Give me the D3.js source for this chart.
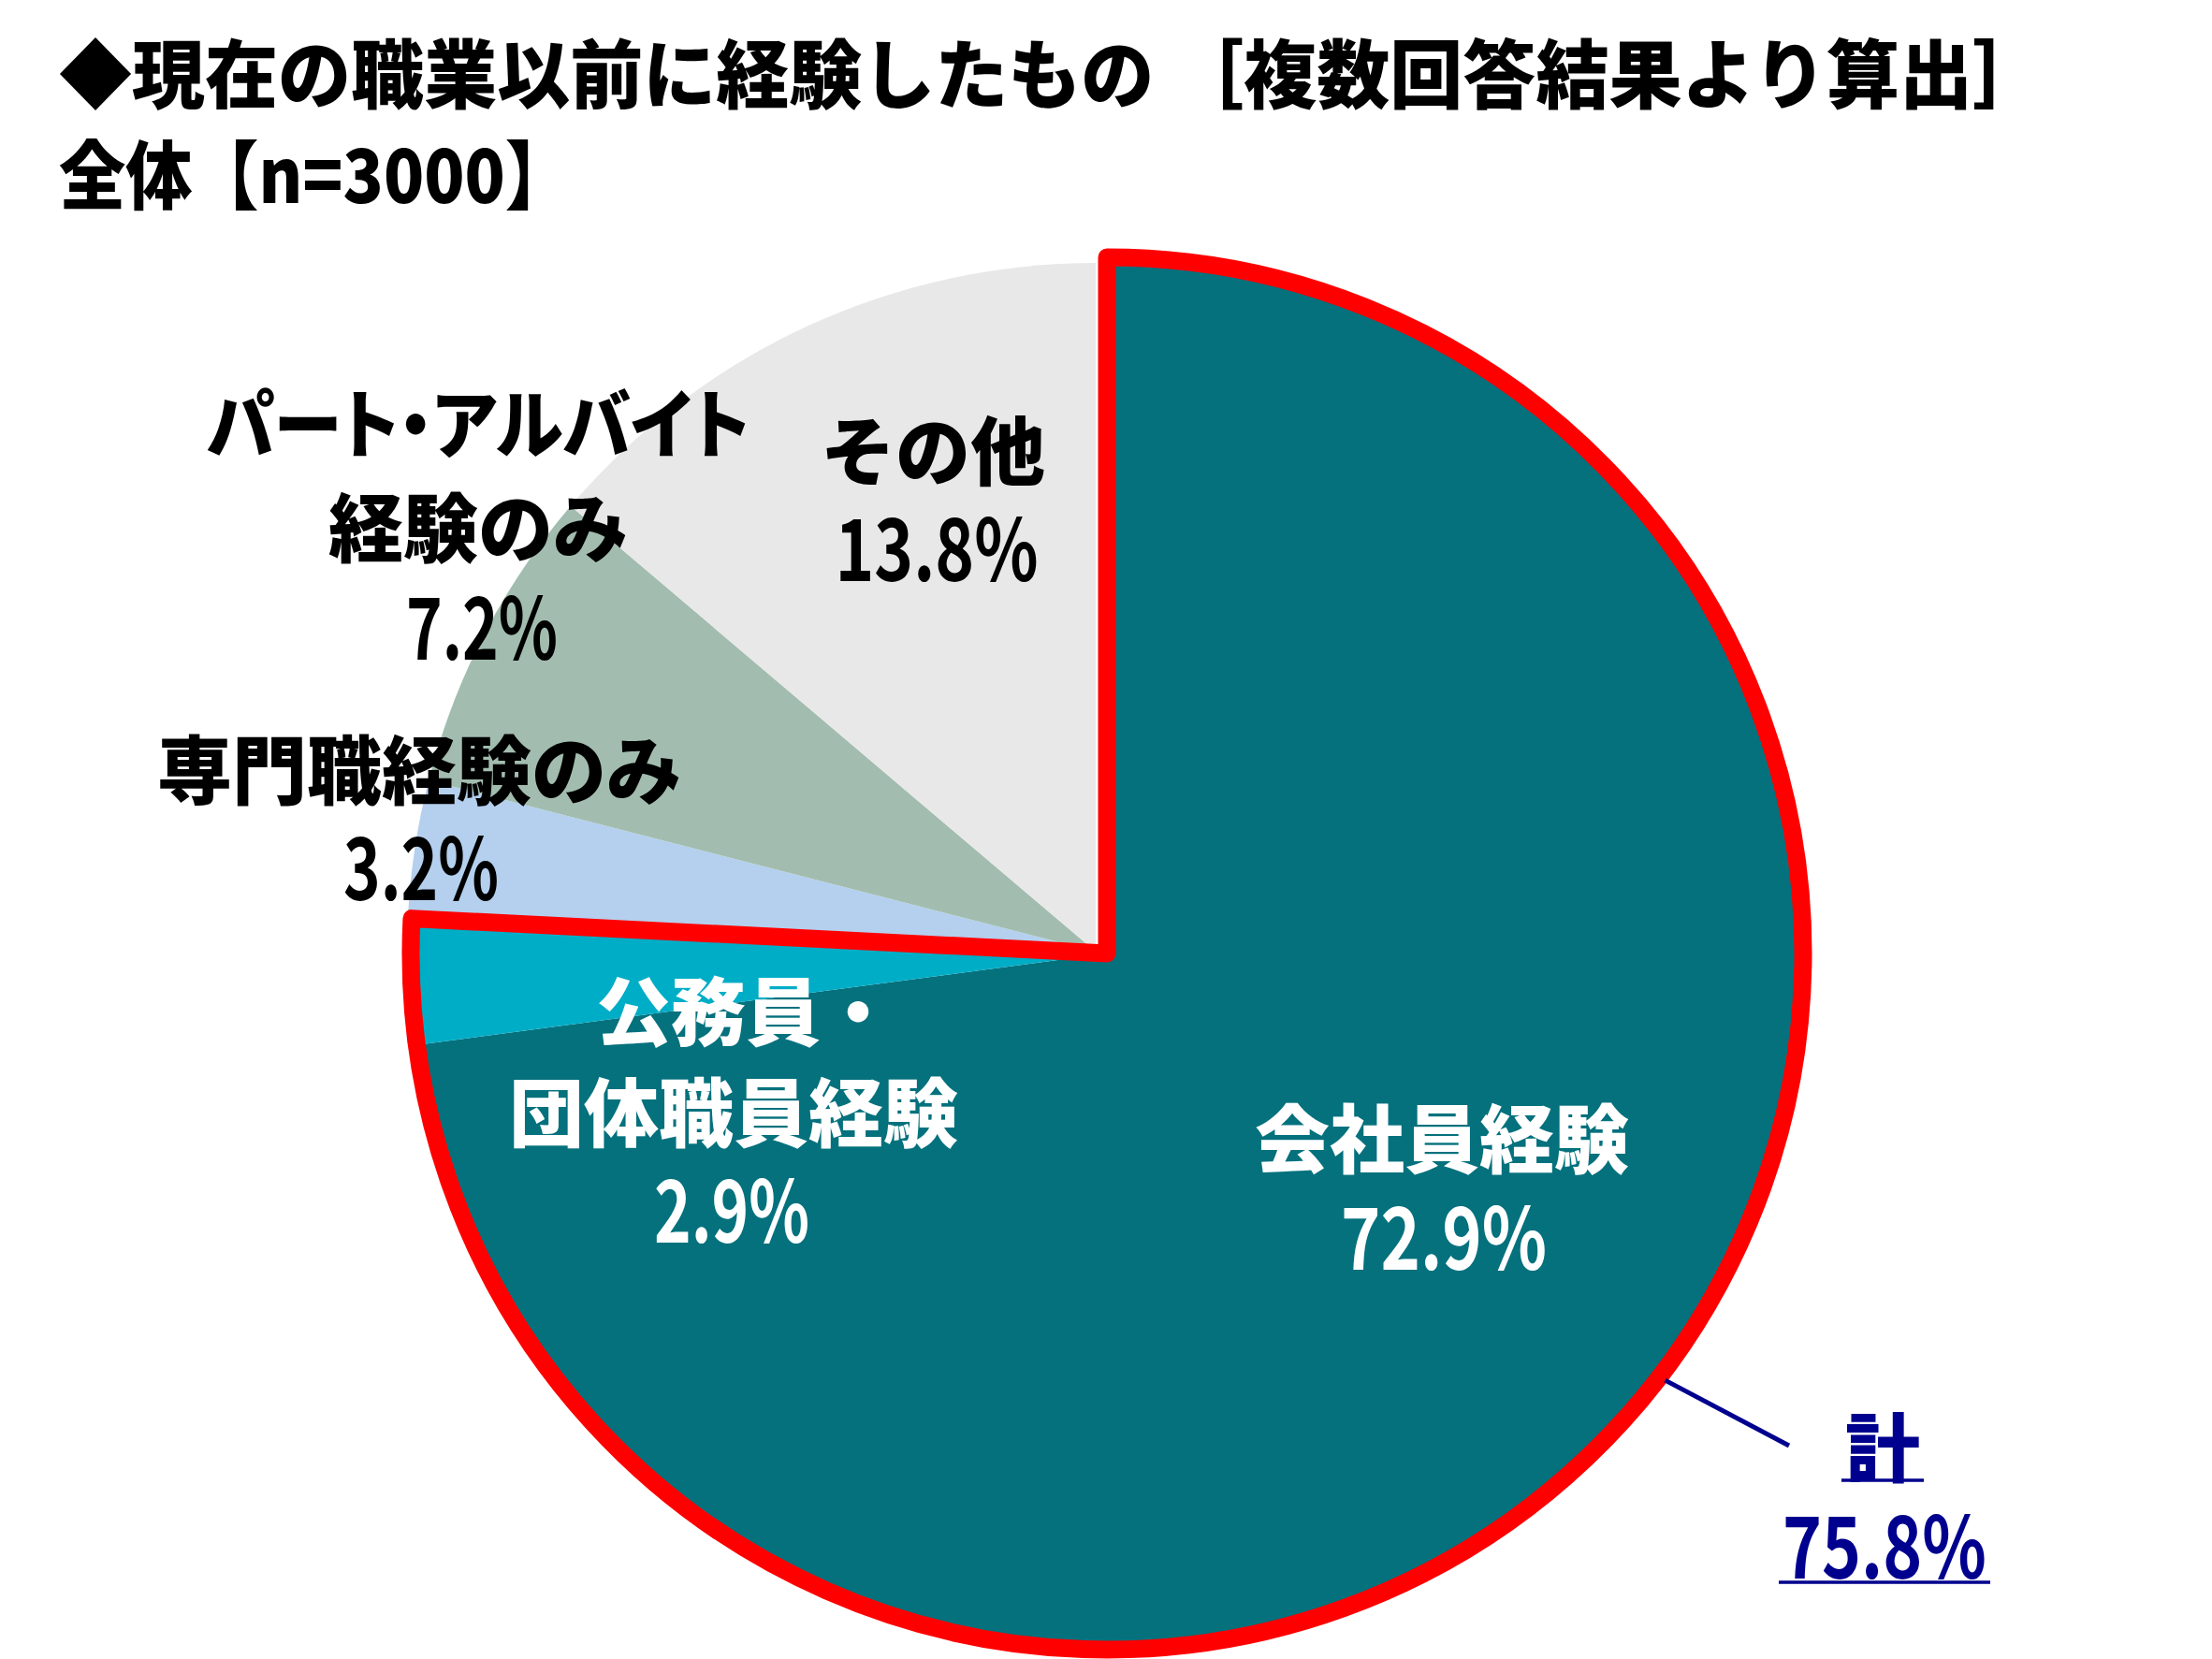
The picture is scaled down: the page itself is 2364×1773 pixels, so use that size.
<!DOCTYPE html>
<html><head><meta charset="utf-8">
<script src="https://cdn.jsdelivr.net/npm/d3@7"></script>
<style>
body{margin:0;background:#fff}
text{font-family:"Noto Sans CJK JP","Noto Sans",sans-serif;font-weight:900}
</style></head><body>
<svg id="c" width="2364" height="1773"></svg>
<script>
// ---- data ----
const titleLines = ["◆現在の職業以前に経験したもの ［複数回答結果より算出］", "全体【n=3000】"];
const categories = ["会社員経験", "公務員・団体職員経験", "専門職経験のみ", "パート・アルバイト経験のみ", "その他"];
const labelLines = [["会社員経験"], ["公務員・", "団体職員経験"], ["専門職経験のみ"], ["パート・アルバイト", "経験のみ"], ["その他"]];
const values = [72.9, 2.9, 3.2, 7.2, 13.8];
const groupedCount = 2;          // slices enclosed by the red outline
const totalLabel = "計";
const totalValue = 75.8;

// ---- style / layout ----
const sliceColors = ["#04717D", "#00ADC6", "#B4D0EE", "#A2BDAF", "#E8E8E8"];
const labelColors = ["#fff", "#fff", "#000", "#000", "#000"];
const labelLayout = [
  {x: 1541, y: 1247, step: 110, pctX: 1543, pctY: 1357, pctW: 220},
  {x: 784, y: 1111, step: 108, pctX: 782, pctY: 1328, pctW: 166, firstX: 637},
  {x: 448, y: 853, step: 108, pctX: 450, pctY: 962, pctW: 166},
  {x: 511, y: 483, step: 111, pctX: 515, pctY: 705, pctW: 162, firstW: 580},
  {x: 997, y: 512, step: 108, pctX: 1001, pctY: 621, pctW: 217}
];
const cx = 1171, cy = 1017, R = 736;
const groupOffset = [12, 2];
const outlineR = 744;

const svg = d3.select("#c");

// title
svg.selectAll("text.title").data(titleLines).join("text")
  .attr("class", "title")
  .attr("x", 63)
  .attr("y", (d, i) => [109, 217][i])
  .attr("font-size", 80)
  .attr("fill", "#000")
  .attr("textLength", (d, i) => [2123, 548][i])
  .attr("lengthAdjust", "spacingAndGlyphs")
  .text(d => d);

const pieData = d3.pie().sort(null).value(d => d)(values);
const arc = d3.arc().innerRadius(0).outerRadius(R);

// non-grouped slices
const main = svg.append("g").attr("transform", `translate(${cx},${cy})`);
main.selectAll("path").data(pieData.filter((d, i) => i >= groupedCount)).join("path")
  .attr("d", arc)
  .attr("fill", d => sliceColors[d.index]);

// grouped (pulled-out) slices
const gx = cx + groupOffset[0], gy = cy + groupOffset[1];
const grp = svg.append("g").attr("transform", `translate(${gx},${gy})`);
grp.selectAll("path").data(pieData.filter((d, i) => i < groupedCount)).join("path")
  .attr("d", arc)
  .attr("fill", d => sliceColors[d.index]);

const groupEnd = pieData[groupedCount - 1].endAngle;
const outlineArc = d3.arc().innerRadius(0).outerRadius(outlineR).startAngle(0).endAngle(groupEnd);
grp.append("path")
  .attr("d", outlineArc())
  .attr("fill", "none")
  .attr("stroke", "#FF0000")
  .attr("stroke-width", 19)
  .attr("stroke-linejoin", "round");

// leader line for total
const navy = "#00008E";
const leadAngle = 127.4 * Math.PI / 180;
svg.append("line")
  .attr("x1", gx + Math.sin(leadAngle) * (outlineR + 7))
  .attr("y1", gy - Math.cos(leadAngle) * (outlineR + 7))
  .attr("x2", 1912).attr("y2", 1545)
  .attr("stroke", navy).attr("stroke-width", 5);

// category labels
labelLines.forEach((lines, i) => {
  const L = labelLayout[i];
  lines.forEach((t, j) => {
    const el = svg.append("text")
      .attr("y", L.y + j * L.step)
      .attr("font-size", 80)
      .attr("fill", labelColors[i])
      .text(t);
    if (j === 0 && L.firstX !== undefined) {
      el.attr("x", L.firstX).attr("text-anchor", "start");
    } else {
      el.attr("x", L.x).attr("text-anchor", "middle");
    }
    if (j === 0 && L.firstW !== undefined) {
      el.style("font-feature-settings", '"palt" 1')
        .attr("textLength", L.firstW)
        .attr("lengthAdjust", "spacingAndGlyphs");
    }
  });
  svg.append("text")
    .attr("x", L.pctX).attr("y", L.pctY)
    .attr("text-anchor", "middle")
    .attr("font-size", 92)
    .attr("fill", labelColors[i])
    .attr("textLength", L.pctW)
    .attr("lengthAdjust", "spacingAndGlyphs")
    .style("font-weight", 700)
    .text(values[i].toFixed(1) + "%");
});

// total label (underlined)
const tl = svg.append("text")
  .attr("x", 2012).attr("y", 1577)
  .attr("text-anchor", "middle")
  .attr("font-size", 80)
  .attr("fill", navy)
  .text(totalLabel);
const tv = svg.append("text")
  .attr("x", 2014).attr("y", 1687)
  .attr("text-anchor", "middle")
  .attr("font-size", 92)
  .attr("fill", navy)
  .attr("textLength", 218)
  .attr("lengthAdjust", "spacingAndGlyphs")
  .style("font-weight", 700)
  .text(totalValue.toFixed(1) + "%");
[[tl, 1582], [tv, 1691]].forEach(([t, uy]) => {
  const b = t.node().getBBox();
  svg.append("line")
    .attr("x1", b.x - 4).attr("x2", b.x + b.width + 4)
    .attr("y1", uy).attr("y2", uy)
    .attr("stroke", navy).attr("stroke-width", 3.5);
});
</script>
</body></html>
